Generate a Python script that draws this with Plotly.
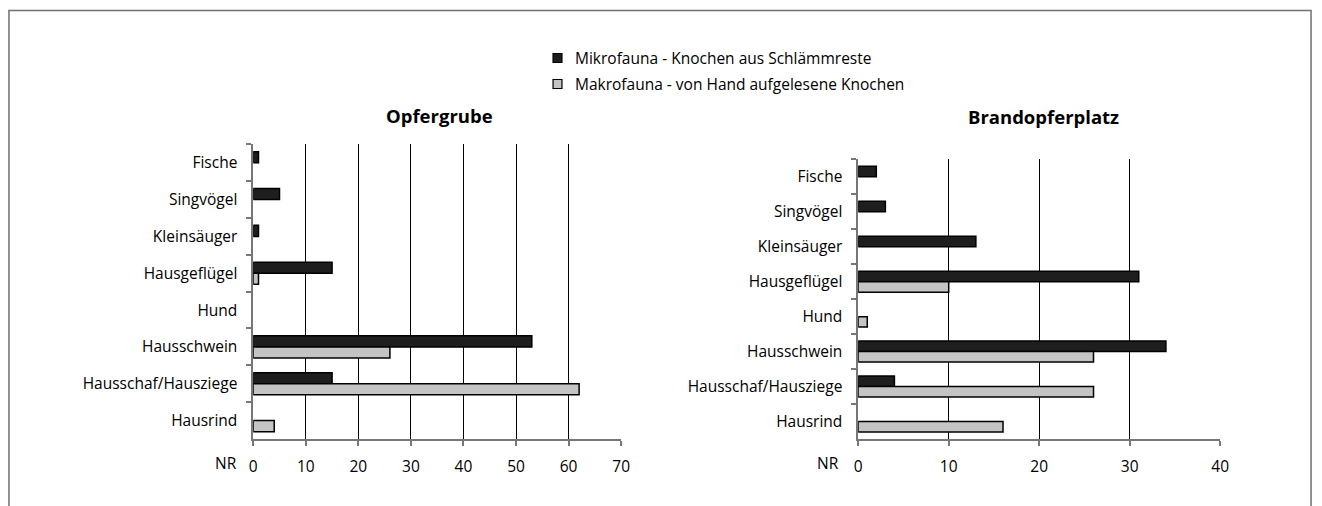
import plotly.graph_objects as go

W, H = 1322, 506

categories = ["Fische", "Singvögel", "Kleinsäuger", "Hausgeflügel", "Hund",
              "Hausschwein", "Hausschaf/Hausziege", "Hausrind"]

series_names = ["Mikrofauna - Knochen aus Schlämmreste",
                "Makrofauna - von Hand aufgelesene Knochen"]

# Opfergrube (NR)
opfer_mikro = [1, 5, 1, 15, 0, 53, 15, 0]
opfer_makro = [0, 0, 0, 1, 0, 26, 62, 4]

# Brandopferplatz (NR)
brand_mikro = [2, 3, 13, 31, 0, 34, 4, 0]
brand_makro = [0, 0, 0, 10, 1, 26, 26, 16]

titles = ["Opfergrube", "Brandopferplatz"]
x_ticks_left = [0, 10, 20, 30, 40, 50, 60, 70]
x_ticks_right = [0, 10, 20, 30, 40]

FONT = "Open Sans"
FS = 15.5
colors = ["#1e1e1e", "#c4c4c4"]


def px_x(v):
    return v / W


def px_y(v):
    return 1 - v / H


def nonzero(vals):
    # empty cells get no bar at all (not even an outline)
    return [v if v else None for v in vals]


fig = go.Figure()

panels = [("x", "y", opfer_mikro, opfer_makro), ("x2", "y2", brand_mikro, brand_makro)]
for xa, ya, mikro, makro in panels:
    for i, (name, vals) in enumerate(zip(series_names, [mikro, makro])):
        fig.add_trace(go.Bar(
            y=categories, x=nonzero(vals), name=name, orientation="h",
            marker=dict(color=colors[i], line=dict(color="#000000", width=1.5)),
            xaxis=xa, yaxis=ya, showlegend=False,
        ))

xcommon = dict(
    showgrid=True, gridcolor="#000000", gridwidth=1,
    showline=True, linecolor="#777777", linewidth=1.5,
    ticks="outside", ticklen=5, tickcolor="#777777", tickwidth=1.5,
    ticklabelstandoff=8,
    zeroline=False, tickfont=dict(family=FONT, size=FS, color="#000000"),
    fixedrange=True,
)
ycommon = dict(
    type="category", categoryorder="array", categoryarray=categories,
    autorange="reversed", showgrid=False,
    showline=True, linecolor="#777777", linewidth=1.5,
    ticks="outside", ticklen=5, tickcolor="#777777", tickwidth=1.5,
    tickson="boundaries", ticklabelstandoff=11,
    tickfont=dict(family=FONT, size=FS, color="#000000"),
    fixedrange=True,
)

fig.update_layout(
    width=W, height=H,
    margin=dict(l=0, r=0, t=0, b=0),
    paper_bgcolor="#ffffff", plot_bgcolor="#ffffff",
    barmode="group", bargap=0.4, bargroupgap=0,
    font=dict(family=FONT, size=FS, color="#000000"),
    xaxis=dict(domain=[px_x(251.7), px_x(623.3)], range=[0, 70],
               tickvals=x_ticks_left, anchor="y", **xcommon),
    yaxis=dict(domain=[px_y(439), px_y(144.3)], anchor="x", **ycommon),
    xaxis2=dict(domain=[px_x(862.7), px_x(1228.3)], range=[0, 40],
                tickvals=x_ticks_right, anchor="y2", **xcommon),
    yaxis2=dict(domain=[px_y(439), px_y(159.3)], anchor="x2", **ycommon),
    showlegend=False,
)

annotations = [
    dict(text=f"<b>{titles[0]}</b>", x=px_x(440), y=px_y(115), xref="paper",
         yref="paper", xanchor="center", yanchor="middle", showarrow=False,
         font=dict(family=FONT, size=18.5)),
    dict(text=f"<b>{titles[1]}</b>", x=px_x(1050), y=px_y(116), xref="paper",
         yref="paper", xanchor="center", yanchor="middle", showarrow=False,
         font=dict(family=FONT, size=18.5)),
    dict(text="NR", x=px_x(237), y=px_y(463), xref="paper", yref="paper",
         xanchor="right", yanchor="middle", showarrow=False,
         font=dict(family=FONT, size=FS)),
    dict(text="NR", x=px_x(845), y=px_y(463), xref="paper", yref="paper",
         xanchor="right", yanchor="middle", showarrow=False,
         font=dict(family=FONT, size=FS)),
]

# legend: swatch + label per series
legend_rows = [58, 84]
for i, (name, yrow) in enumerate(zip(series_names, legend_rows)):
    fig.add_shape(type="rect", xref="paper", yref="paper",
                  x0=px_x(554.5), x1=px_x(563.5), y0=px_y(yrow + 4.5), y1=px_y(yrow - 4.5),
                  fillcolor=colors[i], line=dict(color="#000000", width=1.2))
    annotations.append(dict(text=name, x=px_x(575), y=px_y(yrow), xref="paper",
                            yref="paper", xanchor="left", yanchor="middle",
                            showarrow=False, font=dict(family=FONT, size=FS)))

fig.update_layout(annotations=annotations)

# outer frame
fig.add_shape(type="rect", xref="paper", yref="paper",
              x0=px_x(5), x1=px_x(1320), y0=px_y(530), y1=px_y(10.5),
              line=dict(color="#707070", width=1.5), fillcolor="rgba(0,0,0,0)",
              layer="below")

fig.write_html("out.html")
